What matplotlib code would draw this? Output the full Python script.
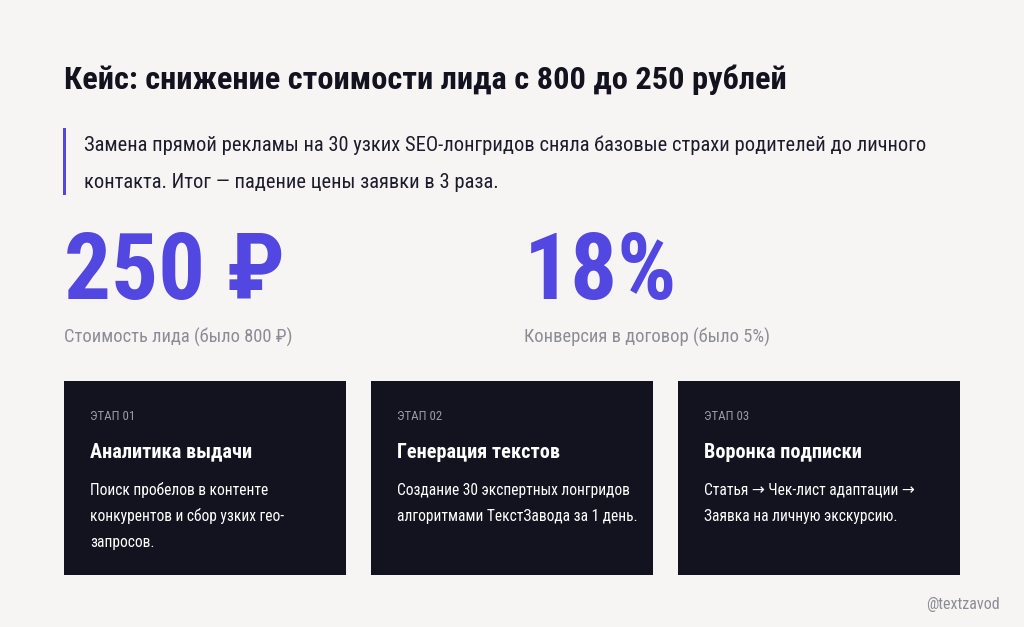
import matplotlib
matplotlib.use('Agg')
import matplotlib.pyplot as plt
import matplotlib.patches as patches

FAM = ['Roboto Condensed', 'DejaVu Sans Condensed', 'Liberation Sans Narrow', 'Roboto', 'DejaVu Sans']

title = 'Кейс: снижение стоимости лида с 800 до 250 рублей'
lead = ['Замена прямой рекламы на 30 узких SEO-лонгридов сняла базовые страхи родителей до личного',
        'контакта. Итог — падение цены заявки в 3 раза.']
kpi_values = ['250 ₽', '18%']
kpi_labels = ['Стоимость лида (было 800 ₽)', 'Конверсия в договор (было 5%)']
stages = ['ЭТАП 01', 'ЭТАП 02', 'ЭТАП 03']
stage_titles = ['Аналитика выдачи', 'Генерация текстов', 'Воронка подписки']
stage_texts = [
    ['Поиск пробелов в контенте', 'конкурентов и сбор узких гео-', 'запросов.'],
    ['Создание 30 экспертных лонгридов', 'алгоритмами ТекстЗавода за 1 день.'],
    ['Статья → Чек-лист адаптации →', 'Заявка на личную экскурсию.'],
]
handle = '@textzavod'

BG = '#f7f5f3'
ACCENT = '#5247e0'
DARK = '#13131f'
GRAY = '#8c8c96'

fig = plt.figure(figsize=(10.24, 6.27), dpi=100, facecolor=BG)
ax = fig.add_axes([0, 0, 1, 1])
ax.set_xlim(0, 1024)
ax.set_ylim(627, 0)
ax.axis('off')

ax.text(64, 80, title, fontsize=23.3, fontweight='bold', color=DARK, family=FAM, va='center')

ax.add_patch(patches.Rectangle((63, 128), 3, 67, color=ACCENT, lw=0))
for i, line in enumerate(lead):
    ax.text(84, 145 + i * 37, line, fontsize=14.8, color='#1c1c2c', family=FAM, va='center')

for i, (v, l) in enumerate(zip(kpi_values, kpi_labels)):
    x = 64 + i * 460
    ax.text(x, 274, v, fontsize=67, fontweight='bold', color=ACCENT, family=FAM, va='center')
    ax.text(x, 337, l, fontsize=13.3, color=GRAY, family=FAM, va='center')

for i in range(3):
    x = 64 + i * 307
    ax.add_patch(patches.Rectangle((x, 381), 282, 194, color=DARK, lw=0))
    ax.text(x + 26, 416, stages[i], fontsize=9.3, color='#9a9aa8', family=FAM, va='center')
    ax.text(x + 26, 452, stage_titles[i], fontsize=14.6, fontweight='bold', color='white',
            family=FAM, va='center')
    for j, line in enumerate(stage_texts[i]):
        ax.text(x + 26, 490 + j * 26, line, fontsize=11.2, color='white', family=FAM, va='center')

ax.text(1000, 604, handle, fontsize=11.5, color=GRAY, family=FAM, ha='right', va='center')

fig.savefig('out.png', dpi=100, facecolor=BG)
